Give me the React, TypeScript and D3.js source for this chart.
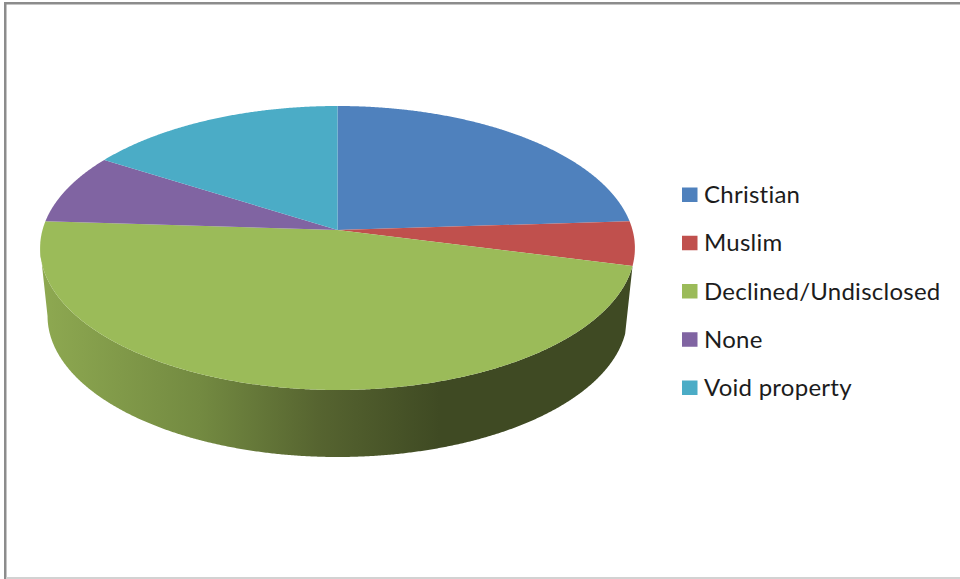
import React from "react";
import * as d3 from "d3";

// Share of each response, in percent
const categories = ["Christian", "Muslim", "Declined/Undisclosed", "None", "Void property"];
const shares = [24, 5, 47, 8, 16];
const colors = ["#4f81bd", "#c0504d", "#9bbb59", "#8064a2", "#4bacc6"];

// Colour of the pie's outer wall from its left end to its right end
const wallOffsets = [0, 0.27, 0.47, 0.675, 1];
const wallColors = ["#8ea951", "#738a41", "#566430", "#3f4a23", "#3f4a23"];

const WIDTH = 960;
const HEIGHT = 579;

// Perspective view of the pie's top disc: hub at y=230, near/far rim at 390/106
const cx = 337.5;
const hubY = 230;
const farY = 106;
const nearY = 390;
const radiusX = 295;
const tilt = (nearY + farY - 2 * hubY) / (nearY - farY);
const spreadY = nearY * (1 - tilt) - hubY;

const topPoint = (angle: number, r = 1): [number, number] => {
  const u = r * Math.sin(angle);
  const v = -r * Math.cos(angle);
  const w = 1 - tilt * v;
  return [cx + (radiusX * u) / w, (hubY + spreadY * v) / w];
};

// The lower rim is the same circle seen further down and slightly further away
const lowerPoint = ([x, y]: [number, number]): [number, number] => [
  cx + (x - cx) * 0.975,
  316 + (y - 248) * (141 / 142),
];

const rimPoints = (start: number, end: number) => {
  const steps = Math.max(2, Math.ceil((end - start) / 0.005));
  return d3.range(steps + 1).map((i) => topPoint(start + ((end - start) * i) / steps));
};

const line = d3.line();

const arcs = d3.pie<number>().sort(null)(shares);

export default function App() {
  // The wall is only visible on the large slice that faces the viewer
  const front = arcs[2];
  const frontRim = rimPoints(front.startAngle, front.endAngle);
  const leftmost = d3.leastIndex(frontRim, (a, b) => a[0] - b[0]) ?? frontRim.length - 1;
  const wallTop = frontRim.slice(0, leftmost + 1);
  const wallBottom = wallTop.map(lowerPoint).reverse();
  const wallPath = line([...wallTop, ...wallBottom]) + "Z";

  const wallX = d3.extent(wallTop, (p) => p[0]) as [number, number];
  const rowY = d3
    .scalePoint<string>()
    .domain(categories)
    .range([195, 388]);

  return (
    <svg
      width={WIDTH}
      height={HEIGHT}
      viewBox={`0 0 ${WIDTH} ${HEIGHT}`}
      style={{ position: "absolute", left: 0, top: 0, display: "block", background: "#ffffff" }}
    >
      <defs>
        <linearGradient
          id="wall"
          gradientUnits="userSpaceOnUse"
          x1={wallX[0]}
          x2={wallX[1]}
          y1={0}
          y2={0}
        >
          {wallOffsets.map((o, i) => (
            <stop key={o} offset={o} stopColor={wallColors[i]} />
          ))}
        </linearGradient>
      </defs>

      {/* Frame */}
      <rect x={4} y={2} width={960} height={2.5} fill="#8c8c8c" />
      <rect x={4} y={2} width={2.5} height={577} fill="#8c8c8c" />
      <rect x={6} y={577} width={954} height={2} fill="#d2d2d2" />

      <path d={wallPath} fill="url(#wall)" />

      {arcs.map((a, i) => (
        <path
          key={categories[i]}
          d={line([[cx, hubY], ...rimPoints(a.startAngle, a.endAngle)]) + "Z"}
          fill={colors[i]}
        />
      ))}

      {categories.map((c, i) => (
        <g key={c} transform={`translate(0,${rowY(c)})`}>
          <rect x={682} y={-7.5} width={15.5} height={14.5} fill={colors[i]} />
          <text
            x={704}
            y={8}
            fontFamily="Lato, 'Open Sans', sans-serif"
            fontSize={24}
            letterSpacing={0.25}
            fill="#1c1c1c"
            style={{ fontVariantLigatures: "none" }}
          >
            {c}
          </text>
        </g>
      ))}
    </svg>
  );
}
